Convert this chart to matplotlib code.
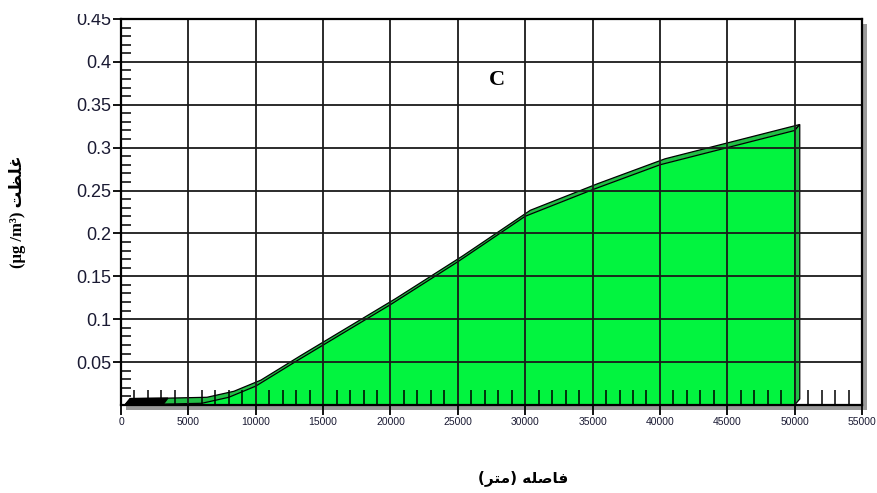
import matplotlib.pyplot as plt
from matplotlib.patches import Polygon, Rectangle
from matplotlib.ticker import MultipleLocator

# ground-level concentration along the plume axis
distance = [300, 3100, 6000, 8000, 10000, 13000, 20000, 25000, 30000, 35000, 40000, 45000, 50000]
concentration = [0.0005, 0.001, 0.002, 0.009, 0.022, 0.051, 0.117, 0.167, 0.220, 0.251, 0.280, 0.300, 0.320]

x_ticks = list(range(0, 55001, 5000))
y_ticks = [0.05, 0.1, 0.15, 0.2, 0.25, 0.3, 0.35, 0.4, 0.45]
y_tick_labels = ["0.05", "0.1", "0.15", "0.2", "0.25", "0.3", "0.35", "0.4", "0.45"]

# Persian labels written in visual order with presentation forms
xlabel = "(\uFEAE\uFE98\uFEE3) \uFEEA\uFEE0\uFEBB\uFE8E\uFED3"
ylabel = "(µg /m³) \uFE96\uFEC8\uFEE0\uFECF"
panel = "C"

FRONT = "#02F43F"
TOP = "#22BE45"
DX, DY = 380, 0.007

fig = plt.figure(figsize=(8.77, 4.93), dpi=100)
ax = fig.add_axes([0.138, 0.1785, 0.8449, 0.783])

# drop shadow behind the plot frame
fig.patches.append(Rectangle((0.138 + 5 / 877, 0.1785 - 5 / 493), 0.8449, 0.783,
                             transform=fig.transFigure, facecolor="#9a9a9a",
                             edgecolor="none", zorder=-1))

# front face of the area
front = list(zip(distance, concentration)) + [(distance[-1], 0), (distance[0], 0)]
ax.add_patch(Polygon(front, closed=True, facecolor=FRONT, edgecolor="none", zorder=1))

# top surface (extruded band) and side face
back = [(x + DX, y + DY) for x, y in zip(distance, concentration)]
band = list(zip(distance, concentration)) + back[::-1]
ax.add_patch(Polygon(band, closed=True, facecolor=TOP, edgecolor="black", lw=0.9, zorder=2))
side = [(distance[-1], 0), (distance[-1], concentration[-1]),
        (distance[-1] + DX, concentration[-1] + DY), (distance[-1] + DX, DY)]
ax.add_patch(Polygon(side, closed=True, facecolor=TOP, edgecolor="black", lw=0.9, zorder=2))
ax.add_patch(Polygon([(distance[0], 0), (distance[1], 0), (distance[1] + DX, concentration[1] + DY),
                      (distance[0] + DX, concentration[0] + DY)],
                     closed=True, facecolor="black", edgecolor="black", lw=0.9, zorder=2))

ax.set_xlim(0, 55000)
ax.set_ylim(0, 0.45)
ax.set_xticks(x_ticks)
ax.set_yticks(y_ticks)
ax.set_yticklabels(y_tick_labels)
ax.xaxis.set_minor_locator(MultipleLocator(1000))
ax.yaxis.set_minor_locator(MultipleLocator(0.01))
ax.grid(True, which="major", color="#1a1a1a", lw=1.3, zorder=3)
ax.set_axisbelow(False)

ax.tick_params(axis="x", which="major", direction="out", length=7, width=1.3,
               labelsize=7.5, pad=2, labelcolor="#1a1a33")
ax.tick_params(axis="x", which="minor", direction="in", length=11, width=1.1)
ax.tick_params(axis="y", which="major", direction="out", length=6, width=1.3,
               labelsize=13, pad=1, labelcolor="#1a1a33")
ax.tick_params(axis="y", which="minor", direction="in", length=7, width=1.1)
for lab in ax.get_xticklabels() + ax.get_yticklabels():
    lab.set_fontfamily("Liberation Sans")
for s in ax.spines.values():
    s.set_linewidth(1.6)
    s.set_zorder(4)

fig.text(497 / 877, 1 - 80 / 493, panel, fontsize=16, fontweight="bold",
         family="Liberation Serif", ha="center", va="center")
fig.text(18 / 877, 1 - 212 / 493, ylabel, rotation=90, ha="center", va="center",
         fontsize=12, fontweight="bold", family=["Liberation Serif", "DejaVu Sans"])
fig.text(523 / 877, 1 - 478 / 493, xlabel, ha="center", va="center",
         fontsize=11, fontweight="bold", family=["DejaVu Sans"])

# the top strip of the figure is blank, cutting the top tick label
fig.patches.append(Rectangle((0, 1 - 14 / 493), 1, 14 / 493, transform=fig.transFigure,
                             facecolor="white", edgecolor="none", zorder=10))

fig.savefig("out.png", dpi=100, facecolor="white")
